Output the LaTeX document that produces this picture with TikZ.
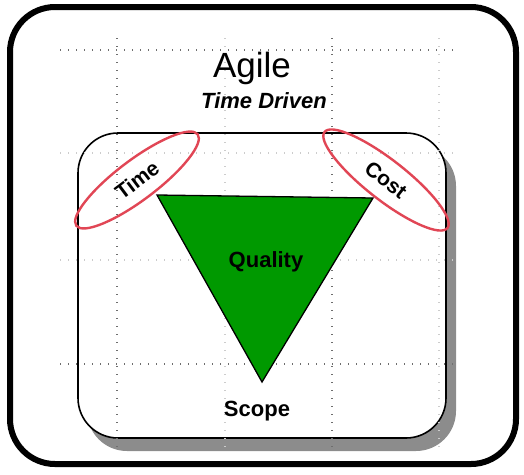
\documentclass[tikz,border=0pt]{standalone}
\usepackage{fontspec}
\setmainfont{Liberation Sans}
\usepackage{tikz}
\usetikzlibrary{shapes.geometric, positioning}

\definecolor{leafgreen}{RGB}{0,153,0}
\definecolor{ringred}{RGB}{225,70,85}
\definecolor{griddot}{RGB}{110,110,110}

\tikzset{
    gridline/.style={griddot, line width=1.3pt, dash pattern=on 1.3pt off 6.7pt},
    faintline/.style={gridline, griddot!35},
    ring/.style={draw=ringred, line width=2.4pt, ellipse, inner sep=0pt,
        minimum width=152pt, minimum height=40pt, font=\bfseries\fontsize{21}{22}\selectfont},
    label/.style={font=\bfseries\fontsize{22}{24}\selectfont, anchor=base}
}

\begin{document}
\begin{tikzpicture}[x=1pt, y=-1pt]
                                \useasboundingbox (0,0) rectangle (524,474);
                                % frame and box
                                \draw[line width=6pt, rounded corners=45pt] (10,7) rectangle (516,464);
                                \fill[gray!90, rounded corners=40pt] (87,146) rectangle (456,451);
                                \draw[fill=white, line width=1.6pt, rounded corners=40pt] (78,133) rectangle (446,438);
                                % dotted grid
                                \foreach \gx in {117, 332} \draw[gridline] (\gx,38) -- (\gx,452);
                                \foreach \gx in {225, 439} \draw[faintline] (\gx,38) -- (\gx,452);
                                \foreach \gy in {50, 364} \draw[gridline] (60,\gy) -- (457,\gy);
                                \foreach \gy in {153, 260} \draw[faintline] (60,\gy) -- (457,\gy);
                                % triangle
                                \coordinate (tl) at (157,195);
                                \coordinate (tr) at (373,198);
                                \coordinate (bt) at (262,382);
                                \draw[fill=leafgreen, line width=1.3pt] (tl) -- (tr) -- (bt) -- cycle;
                                \node[label] (quality) at (266,267) {Quality};
                                \node[label] (scope) at (257,416) {Scope};
                                % title
                                \node[anchor=base, font=\fontsize{35}{38}\selectfont] (agile) at (252,77) {Agile};
                                \node[anchor=base, font=\bfseries\itshape\fontsize{22}{24}\selectfont] (driven) at (264,108) {Time Driven};
                                % rings
                                \node[ring, rotate=37] (time) at (137,180) {Time};
                                \node[ring, rotate=-38, minimum width=156pt] (cost) at (386,180) {Cost};
                            \end{tikzpicture}
\end{document}
